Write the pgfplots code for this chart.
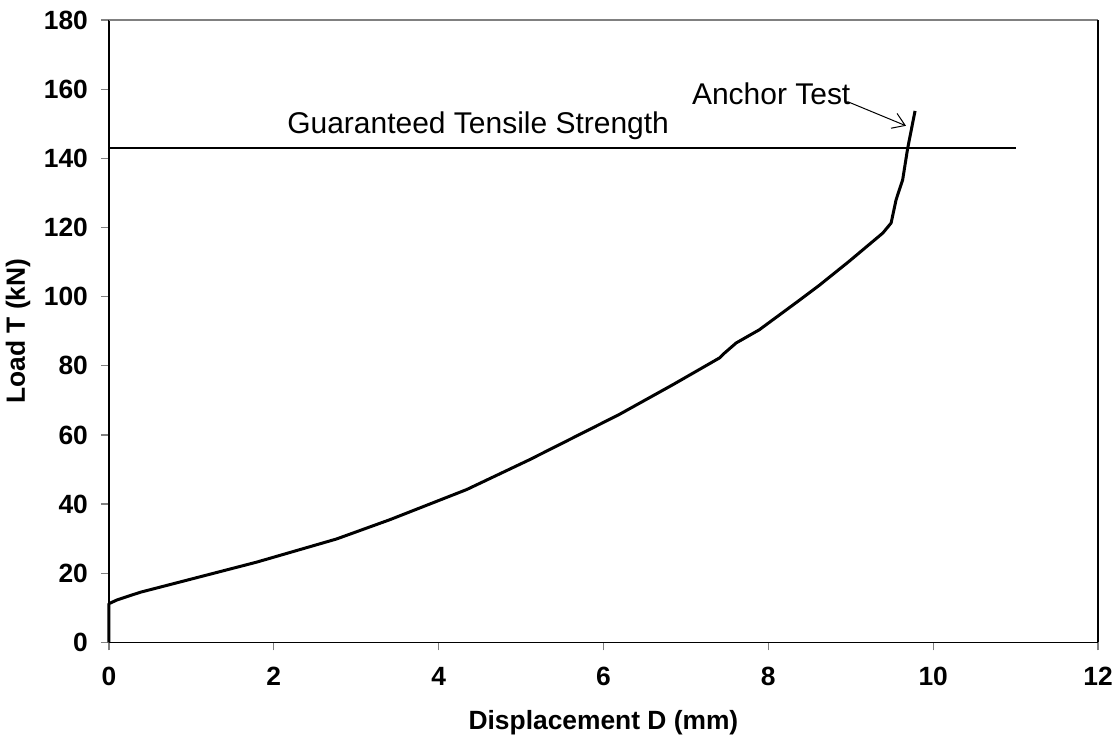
\documentclass[border=0pt]{standalone}
\usepackage{fontspec}
\setmainfont{Liberation Sans}
\usepackage{pgfplots}
\pgfplotsset{compat=1.18}
\usetikzlibrary{arrows.meta}

\begin{document}
\begin{tikzpicture}
\begin{axis}[
  name=ax,
  scale only axis,
  width=495pt, height=311.5pt,
  xmin=0, xmax=12, ymin=0, ymax=180,
  xtick={0,2,...,12}, ytick={0,20,...,180},
  axis x line*=bottom, axis y line*=left,
  tick align=outside, major tick length=4pt,
  tick style={draw=gray, line width=0.6pt},
  axis line style={line width=0.6pt},
  every tick label/.append style={font=\fontsize{13.2}{15}\selectfont\bfseries},
  /pgf/number format/assume math mode=true,
  xticklabel style={yshift=-5pt},
  yticklabel style={xshift=-3pt},
  xlabel={\fontsize{13.2}{15}\selectfont\bfseries Displacement D (mm)},
  ylabel={\fontsize{13.2}{15}\selectfont\bfseries Load T (kN)},
  xlabel style={at={(0.5,0)}, anchor=center, yshift=-40pt},
  ylabel style={at={(0,0.5)}, anchor=center, yshift=45.5pt},
  clip=false,
]
\addplot[black, line width=1.5pt, line join=round] coordinates {
(0,0) (0,11.2) (0.1,12.3) (0.38,14.5) (0.98,18.2) (1.79,23.2) (2.76,29.9)
(3.41,35.5) (4.34,44.2) (5.1,52.8) (5.35,55.8) (6.19,65.9) (6.84,74.5)
(7.41,82.3) (7.47,83.7) (7.61,86.6) (7.89,90.4) (8.38,99.0) (8.62,103.3)
(8.98,110.2) (9.39,118.4) (9.49,121.3) (9.55,128) (9.63,133.8) (9.69,142.8)
(9.78,153.7)
};
\addplot[black, line width=0.7pt] coordinates {(0,143) (11,143)};
\draw[line width=0.5pt, -{Straight Barb[length=6pt,width=8pt]}] (axis cs:8.96,156.4) -- (axis cs:9.67,149.4);
\node[anchor=base west, inner sep=0pt, font=\fontsize{15}{17}\selectfont] at (axis cs:7.07,155.6) {Anchor Test};
\node[anchor=base west, inner sep=0pt, font=\fontsize{15}{17}\selectfont] at (axis cs:2.16,147.1) {Guaranteed Tensile Strength};
\draw[gray, line width=1pt] (axis cs:0,180) -- (axis cs:12,180);
\draw[black, line width=0.6pt] (axis cs:12,0) -- (axis cs:12,180);
\end{axis}
\pgfresetboundingbox
\path[use as bounding box] ([xshift=-54.5pt,yshift=-49.5pt]ax.south west) rectangle ([xshift=10pt,yshift=10pt]ax.north east);
\end{tikzpicture}
\end{document}
